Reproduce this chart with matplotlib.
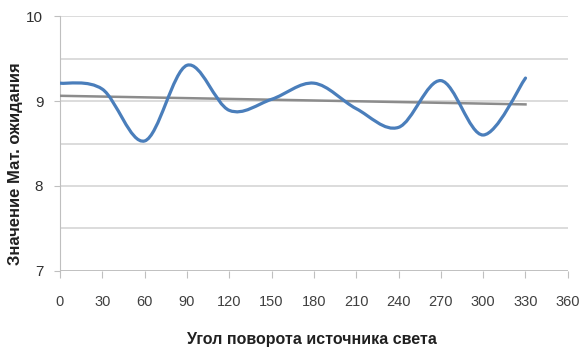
import numpy as np
import matplotlib.pyplot as plt
from matplotlib.path import Path
from matplotlib.patches import PathPatch

# rotation angle of the light source (degrees) and expectation value
angles = [0, 30, 60, 90, 120, 150, 180, 210, 240, 270, 300, 330]
values = [9.21, 9.14, 8.53, 9.42, 8.89, 9.02, 9.21, 8.91, 8.69, 9.24, 8.60, 9.27]
xticks = list(range(0, 361, 30))
yticks = [7, 8, 9, 10]

plt.rcParams['font.family'] = ['Liberation Sans', 'DejaVu Sans']

fig = plt.figure(figsize=(5.8, 3.56), dpi=100)
ax = fig.add_axes([0.1034, 0.2388, 0.8756, 0.7162])

# smoothed line (cardinal spline as bezier segments)
x = np.array(angles, dtype=float)
y = np.array(values, dtype=float)
verts = [(x[0], y[0])]
codes = [Path.MOVETO]
n = len(x)
for i in range(n - 1):
    p0 = np.array([x[max(i - 1, 0)], y[max(i - 1, 0)]])
    p1 = np.array([x[i], y[i]])
    p2 = np.array([x[i + 1], y[i + 1]])
    p3 = np.array([x[min(i + 2, n - 1)], y[min(i + 2, n - 1)]])
    c1 = p1 + (p2 - p0) / 6.0
    c2 = p2 - (p3 - p1) / 6.0
    verts += [tuple(c1), tuple(c2), tuple(p2)]
    codes += [Path.CURVE4] * 3
ax.add_patch(PathPatch(Path(verts, codes), facecolor='none', edgecolor='#4a7ebb',
                       lw=2.3, capstyle='round', joinstyle='round', zorder=4))

# linear trend
k, b = np.polyfit(x, y, 1)
ax.plot([x[0], x[-1]], [k * x[0] + b, k * x[-1] + b], color='#8c8c8c', lw=1.8, zorder=3)

ax.set_xlim(0, 360)
ax.set_ylim(7, 10)
ax.set_xticks(xticks)
ax.set_yticks(yticks)
ax.set_yticks([7.5, 8.5, 9.5], minor=True)
ax.grid(True, which='both', axis='y', color='#d9d9d9', lw=1.3)
ax.set_axisbelow(True)

for s in ['top', 'right', 'bottom']:
    ax.spines[s].set_visible(False)
ax.spines['left'].set_color('#bfbfbf')
ax.axhline(7, color='#bfbfbf', lw=1.3, zorder=2)

ax.tick_params(axis='x', length=5, color='#bfbfbf', labelsize=10.5, labelcolor='#404040', pad=12)
ax.tick_params(axis='y', length=4, color='#bfbfbf', labelsize=11, labelcolor='#303030', pad=8)
ax.tick_params(axis='y', which='minor', length=0)

ax.set_xlabel('Угол поворота источника света', fontsize=11.5, fontweight='bold',
              color='#202020')
ax.set_ylabel('Значение Мат. ожидания', fontsize=12, fontweight='bold',
              color='#202020', va='center')
ax.xaxis.set_label_coords(0.496, -0.24)
ax.yaxis.set_label_coords(-0.088, 0.42)

fig.savefig('out.png', dpi=100)
